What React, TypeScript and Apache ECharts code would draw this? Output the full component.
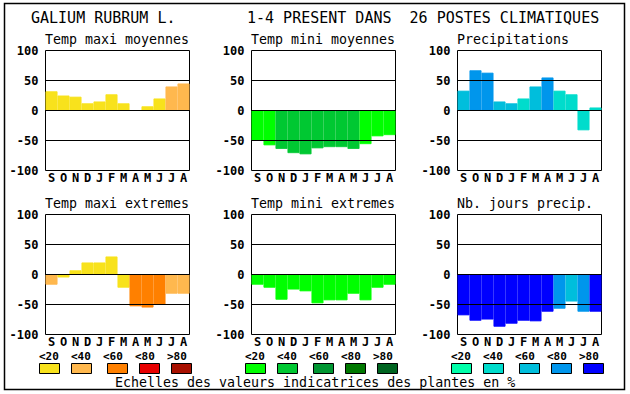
import React, { useEffect, useRef } from "react";
import * as echarts from "echarts";

const months = ["S", "O", "N", "D", "J", "F", "M", "A", "M", "J", "J", "A"];
const yTicks = { min: -100, max: 100, interval: 50 };

const warmPalette = ["#f8e21c", "#ffb84e", "#ff8000", "#e80000", "#a81000"];
const greenPalette = ["#00ff00", "#00c832", "#009632", "#007800", "#006420"];
const bluePalette = ["#00ffaa", "#00dccc", "#00bedc", "#0096ec", "#0000ff"];
const classLabels = ["<20", "<40", "<60", "<80", ">80"];

const tmaxMoyValues = [32, 25, 23, 12, 15, 27, 12, 0, 7, 20, 40, 45];
const tmaxMoyClass = [0, 0, 0, 0, 0, 0, 0, 0, 0, 0, 1, 1];

const tminMoyValues = [-50, -58, -64, -71, -73, -63, -61, -61, -64, -56, -43, -41];
const tminMoyClass = [0, 0, 1, 1, 1, 1, 1, 1, 1, 0, 0, 0];

const precipValues = [33, 67, 63, 15, 12, 20, 40, 55, 33, 27, -33, 5];
const precipClass = [2, 3, 3, 2, 2, 1, 2, 3, 1, 1, 1, 1];

const tmaxExtValues = [-17, -5, 7, 20, 20, 30, -22, -53, -55, -50, -32, -32];
const tmaxExtClass = [1, 0, 0, 0, 0, 0, 0, 2, 2, 2, 1, 1];

const tminExtValues = [-17, -22, -42, -25, -28, -48, -43, -43, -32, -43, -22, -17];
const tminExtClass = [0, 0, 0, 0, 0, 0, 0, 0, 0, 0, 0, 0];

const joursValues = [-68, -77, -75, -87, -82, -77, -78, -62, -57, -45, -62, -62];
const joursClass = [4, 4, 4, 4, 4, 4, 4, 4, 3, 2, 3, 4];

const headerLeft = "GALIUM RUBRUM L.";
const headerRight = "1-4 PRESENT DANS  26 POSTES CLIMATIQUES";
const footer = "Echelles des valeurs indicatrices des plantes en %";

const panels = [
  { title: "Temp maxi moyennes", values: tmaxMoyValues, cls: tmaxMoyClass, palette: warmPalette },
  { title: "Temp mini moyennes", values: tminMoyValues, cls: tminMoyClass, palette: greenPalette },
  { title: "Precipitations", values: precipValues, cls: precipClass, palette: bluePalette },
  { title: "Temp maxi extremes", values: tmaxExtValues, cls: tmaxExtClass, palette: warmPalette },
  { title: "Temp mini extremes", values: tminExtValues, cls: tminExtClass, palette: greenPalette },
  { title: "Nb. jours precip.", values: joursValues, cls: joursClass, palette: bluePalette },
];

const MONO = "'DejaVu Sans Mono', monospace";
const colLeft = [45, 251, 457];
const rowTop = [50, 214];
const GW = 144;
const GH = 120;

export default function App() {
  const ref = useRef<HTMLDivElement>(null);
  useEffect(() => {
    if (!ref.current) return;
    const chart = echarts.init(ref.current, undefined, { renderer: "svg" });
    const grids: any[] = [];
    const xAxes: any[] = [];
    const yAxes: any[] = [];
    const series: any[] = [];
    const graphics: any[] = [];

    graphics.push({
      type: "rect",
      shape: { x: 4.5, y: 3.5, width: 620, height: 386 },
      style: { fill: "none", stroke: "#000", lineWidth: 1.5 },
    });
    graphics.push({
      type: "text",
      x: 31,
      y: 18,
      style: { text: headerLeft, font: `15px ${MONO}`, fill: "#000", verticalAlign: "middle" },
    });
    graphics.push({
      type: "text",
      x: 247,
      y: 18,
      style: { text: headerRight, font: `15px ${MONO}`, fill: "#000", verticalAlign: "middle" },
    });
    graphics.push({
      type: "text",
      x: 115,
      y: 382,
      style: { text: footer, font: `13.3px ${MONO}`, fill: "#000", verticalAlign: "middle", lineHeight: 12 },
    });

    const labelOffsets = [-6, 26, 58, 90, 122];
    const boxOffsets = [-6, 26, 62, 94, 126];
    const legendPalettes = [warmPalette, greenPalette, bluePalette];

    panels.forEach((p, i) => {
      const col = i % 3;
      const row = Math.floor(i / 3);
      const left = colLeft[col];
      const top = rowTop[row];
      grids.push({
        left: left + 0.5,
        top: top + 0.5,
        width: GW,
        height: GH,
        show: true,
        borderColor: "#000",
        borderWidth: 1,
        backgroundColor: "transparent",
      });
      xAxes.push({
        type: "category",
        gridIndex: i,
        data: months,
        axisLine: { show: false, onZero: false },
        axisTick: { show: false },
        axisLabel: {
          color: "#000",
          fontFamily: MONO,
          fontWeight: "bold",
          fontSize: 12,
          lineHeight: 11,
          margin: 2,
          interval: 0,
        },
      });
      yAxes.push({
        type: "value",
        gridIndex: i,
        min: yTicks.min,
        max: yTicks.max,
        interval: yTicks.interval,
        axisLine: { show: false },
        axisTick: { show: false },
        splitLine: { show: false },
        axisLabel: {
          color: "#000",
          fontFamily: MONO,
          fontWeight: "bold",
          fontSize: 12,
          margin: 7,
        },
      });
      series.push({
        type: "bar",
        xAxisIndex: i,
        yAxisIndex: i,
        barCategoryGap: "0%",
        data: p.values.map((v, k) => ({
          value: v,
          itemStyle: {
            color: p.palette[p.cls[k]],
            borderColor: p.palette[p.cls[k]],
            borderWidth: v === 0 ? 0 : 0.8,
          },
        })),
        markLine: {
          silent: true,
          symbol: ["none", "none"],
          label: { show: false },
          lineStyle: { color: "#000", width: 1, type: "solid" },
          data: [{ yAxis: 50 }, { yAxis: 0 }, { yAxis: -50 }],
        },
      });
      graphics.push({
        type: "text",
        x: left,
        y: top - 11,
        style: { text: p.title, font: `13.3px ${MONO}`, fill: "#000", verticalAlign: "middle", lineHeight: 12 },
      });
    });

    legendPalettes.forEach((pal, c) => {
      const left = colLeft[c];
      pal.forEach((color, k) => {
        graphics.push({
          type: "text",
          x: left + labelOffsets[k],
          y: 356,
          style: {
            text: classLabels[k],
            font: `bold 11px ${MONO}`,
            fill: "#000",
            verticalAlign: "middle",
            lineHeight: 10,
          },
        });
        graphics.push({
          type: "rect",
          shape: { x: left + boxOffsets[k] + 0.5, y: 363.5, width: 20, height: 10 },
          style: { fill: color, stroke: "#000", lineWidth: 1 },
        });
      });
    });

    chart.setOption({
      animation: false,
      backgroundColor: "#fff",
      grid: grids,
      xAxis: xAxes,
      yAxis: yAxes,
      series,
      graphic: graphics,
    });
    return () => chart.dispose();
  }, []);
  return (
    <div
      ref={ref}
      style={{ position: "fixed", left: 0, top: 0, width: 630, height: 394 }}
    />
  );
}
